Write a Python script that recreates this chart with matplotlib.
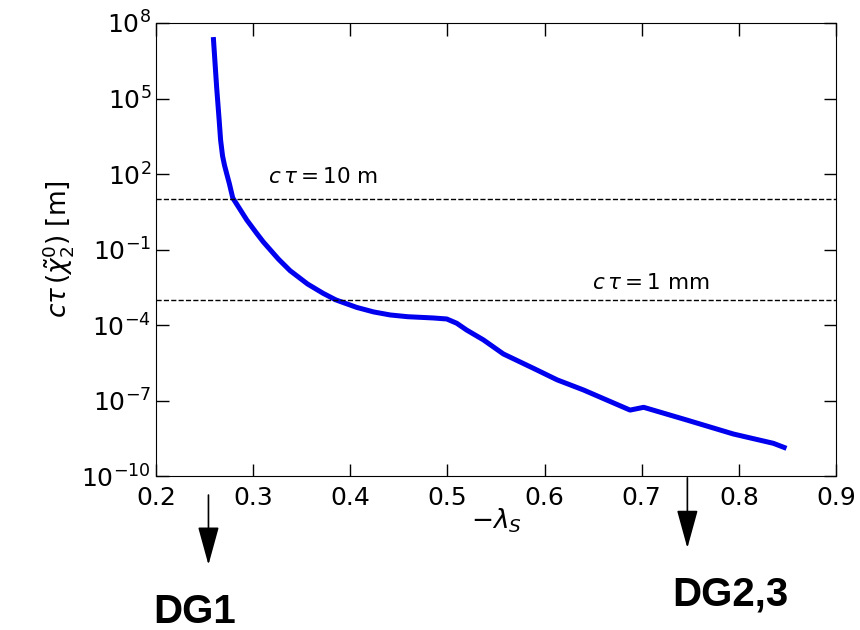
import numpy as np
import matplotlib
matplotlib.use('Agg')
import matplotlib.pyplot as plt
from matplotlib import transforms

plt.rcParams['font.size'] = 18

# lifetime curve, log10 of c*tau in metres against -lambda_S
lam = [0.259, 0.2624, 0.265, 0.2665, 0.2685, 0.2705, 0.273, 0.2755, 0.279,
       0.2935, 0.3037, 0.3105, 0.326, 0.338, 0.356, 0.372, 0.385, 0.4066,
       0.424, 0.441, 0.459, 0.475, 0.4855, 0.4993, 0.5096, 0.5198, 0.537,
       0.5576, 0.5885, 0.613, 0.64, 0.688, 0.702, 0.746, 0.7943, 0.8355,
       0.849]
log_ctau = [7.44, 5.46, 4.15, 3.35, 2.72, 2.35, 1.98, 1.62, 1.05,
            0.17, -0.36, -0.70, -1.38, -1.84, -2.37, -2.74, -3.00, -3.30,
            -3.48, -3.60, -3.67, -3.70, -3.72, -3.76, -3.93, -4.20, -4.59,
            -5.15, -5.72, -6.18, -6.58, -7.38, -7.27, -7.77, -8.33, -8.70,
            -8.90]
ctau = 10.0 ** np.array(log_ctau)

# reference lifetimes (m)
ref_vals = [10.0, 1e-3]
ref_text = [r'$c\,\tau = 10$ m', r'$c\,\tau = 1$ mm']
ref_text_pos = [(0.315, 10 ** 1.88), (0.649, 10 ** -2.33)]

# scenario markers below the axis
dg_names = ['DG1', 'DG2,3']
dg_lam = [0.254, 0.747]

yticks = [1e8, 1e5, 1e2, 1e-1, 1e-4, 1e-7, 1e-10]

fig = plt.figure(figsize=(8.6, 6.3), dpi=100)
ax = fig.add_axes([0.1814, 0.2444, 0.7907, 0.7191])

ax.plot(lam, ctau, color='#0000ee', lw=3.6, solid_joinstyle='round',
        solid_capstyle='butt')
for v in ref_vals:
    ax.axhline(v, color='k', ls='--', lw=1.0)
for t, (x, y) in zip(ref_text, ref_text_pos):
    ax.text(x, y, t, fontsize=15.5, va='center', ha='left')

ax.set_yscale('log')
ax.set_xlim(0.2, 0.9)
ax.set_ylim(1e-10, 1e8)
ax.set_yticks(yticks)
ax.yaxis.set_minor_locator(matplotlib.ticker.NullLocator())
ax.tick_params(direction='in', length=9, width=1, top=True, right=True)
ax.tick_params(axis='x', pad=7)
ax.set_xlabel(r'$-\lambda_S$', fontsize=19, labelpad=-2)
ax.set_ylabel(r'$c\tau\,(\tilde{\chi}_2^0)$ [m]', fontsize=19)

# arrows and labels for the scenarios
trans = transforms.blended_transform_factory(ax.transData, ax.transAxes)
arrow_tops = [-0.042, -0.004]
arrow_tips = [-0.196, -0.159]
for x, top, tip in zip(dg_lam, arrow_tops, arrow_tips):
    ax.annotate('', xy=(x, tip), xytext=(x, top), xycoords=trans,
                textcoords=trans, annotation_clip=False,
                arrowprops=dict(arrowstyle='-|>,head_length=0.8,head_width=0.22',
                                mutation_scale=30, color='k', lw=1.2,
                                shrinkA=0, shrinkB=0))

fig.text(195 / 860, 1 - 612 / 630, dg_names[0], fontsize=29, fontweight='bold',
         family='Liberation Sans', ha='center', va='center')
fig.text(730 / 860, 1 - 594 / 630, dg_names[1], fontsize=29, fontweight='bold',
         family='Liberation Sans', ha='center', va='center')

fig.savefig('out.png', dpi=100)
